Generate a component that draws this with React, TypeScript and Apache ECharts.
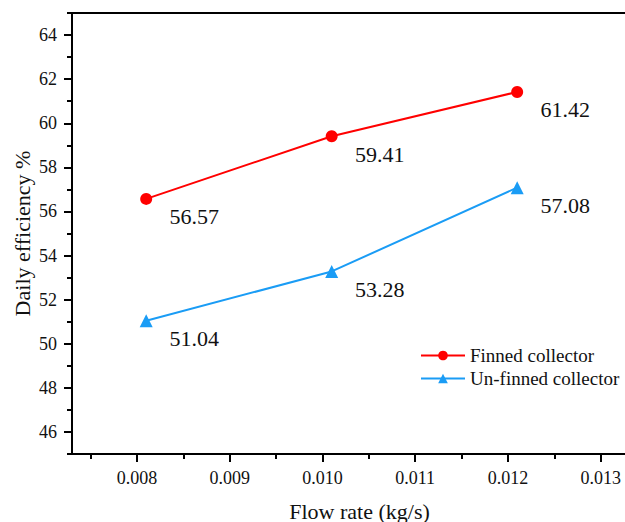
import React, { useEffect, useRef } from "react";
import * as echarts from "echarts";

const flowRate = [0.0081, 0.0101, 0.0121];
const finned = [56.57, 59.41, 61.42];
const unfinned = [51.04, 53.28, 57.08];
const xMajorTicks = [0.008, 0.009, 0.01, 0.011, 0.012, 0.013];
const xMinorTicks = [0.0075, 0.0085, 0.0095, 0.0105, 0.0115, 0.0125, 0.0135];
const yMajorTicks = [46, 48, 50, 52, 54, 56, 58, 60, 62, 64];
const yMinorTicks = [45, 47, 49, 51, 53, 55, 57, 59, 61, 63, 65];
const seriesNames = ["Finned collector", "Un-finned collector"];

const FONT = "'Liberation Serif', 'Times New Roman', serif";

export default function App() {
  const ref = useRef<HTMLDivElement>(null);
  useEffect(() => {
    if (!ref.current) return;
    const chart = echarts.init(ref.current, undefined, { renderer: "svg" });
    const xMin = 0.0073;
    const xMax = 0.0135;
    const yMin = 45;
    const yMax = 65;
    const labelStyle = {
      show: true,
      position: "inside" as const,
      offset: [48, 18],
      fontFamily: FONT,
      fontSize: 22,
      color: "#111",
      formatter: (p: any) => p.value[1].toFixed(2),
    };
    chart.setOption({
      animation: false,
      backgroundColor: "#fff",
      textStyle: { fontFamily: FONT },
      grid: {
        left: 72,
        top: 13,
        bottom: 68,
        right: 0,
        containLabel: false,
        outerBoundsMode: "none",
        show: true,
        borderColor: "#000",
        borderWidth: 2,
        backgroundColor: "transparent",
      },
      legend: {
        left: 415,
        top: 341,
        orient: "vertical",
        itemWidth: 44,
        itemHeight: 12,
        itemGap: 4,
        textStyle: { fontFamily: FONT, fontSize: 19, color: "#111" },
        data: seriesNames,
      },
      xAxis: [
        {
          type: "value",
          min: xMin,
          max: xMax,
          name: "Flow rate (kg/s)",
          nameLocation: "middle",
          nameGap: 46,
          nameMoveOverlap: false,
          nameTextStyle: { fontFamily: FONT, fontSize: 22, color: "#111" },
          axisLine: { show: true, lineStyle: { color: "#000", width: 2 } },
          axisTick: { show: true, length: 8, lineStyle: { color: "#000", width: 2 }, customValues: xMajorTicks },
          axisLabel: {
            show: true,
            customValues: xMajorTicks,
            margin: 15,
            fontFamily: FONT,
            fontSize: 18,
            color: "#111",
            formatter: (v: number) => v.toFixed(3),
          },
          splitLine: { show: false },
        },
        {
          type: "value",
          min: xMin,
          max: xMax,
          position: "bottom",
          axisLine: { show: false },
          axisTick: { show: true, length: 5, lineStyle: { color: "#000", width: 2 }, customValues: xMinorTicks },
          axisLabel: { show: false },
          splitLine: { show: false },
        },
      ],
      yAxis: [
        {
          type: "value",
          min: yMin,
          max: yMax,
          name: "Daily efficiency %",
          nameLocation: "middle",
          nameGap: 39,
          nameMoveOverlap: false,
          nameTextStyle: { fontFamily: FONT, fontSize: 22, color: "#111" },
          axisLine: { show: true, lineStyle: { color: "#000", width: 2 } },
          axisTick: { show: true, length: 8, lineStyle: { color: "#000", width: 2 }, customValues: yMajorTicks },
          axisLabel: {
            show: true,
            customValues: yMajorTicks,
            margin: 15,
            fontFamily: FONT,
            fontSize: 18,
            color: "#111",
          },
          splitLine: { show: false },
        },
        {
          type: "value",
          min: yMin,
          max: yMax,
          position: "left",
          axisLine: { show: false },
          axisTick: { show: true, length: 5, lineStyle: { color: "#000", width: 2 }, customValues: yMinorTicks },
          axisLabel: { show: false },
          splitLine: { show: false },
        },
      ],
      series: [
        {
          name: seriesNames[0],
          type: "line",
          xAxisIndex: 0,
          yAxisIndex: 0,
          data: flowRate.map((x, i) => [x, finned[i]]),
          symbol: "circle",
          symbolSize: 12,
          itemStyle: { color: "#ff0000" },
          lineStyle: { color: "#ff0000", width: 2 },
          label: labelStyle,
        },
        {
          name: seriesNames[1],
          type: "line",
          xAxisIndex: 0,
          yAxisIndex: 0,
          data: flowRate.map((x, i) => [x, unfinned[i]]),
          symbol: "triangle",
          symbolSize: 13,
          itemStyle: { color: "#1a9cf5" },
          lineStyle: { color: "#1a9cf5", width: 2 },
          label: labelStyle,
        },
      ],
    });
    return () => chart.dispose();
  }, []);
  return (
    <div style={{ position: "absolute", left: 0, top: 0, width: 625, height: 522, overflow: "hidden" }}>
      <div ref={ref} style={{ width: 647, height: 522 }} />
    </div>
  );
}
